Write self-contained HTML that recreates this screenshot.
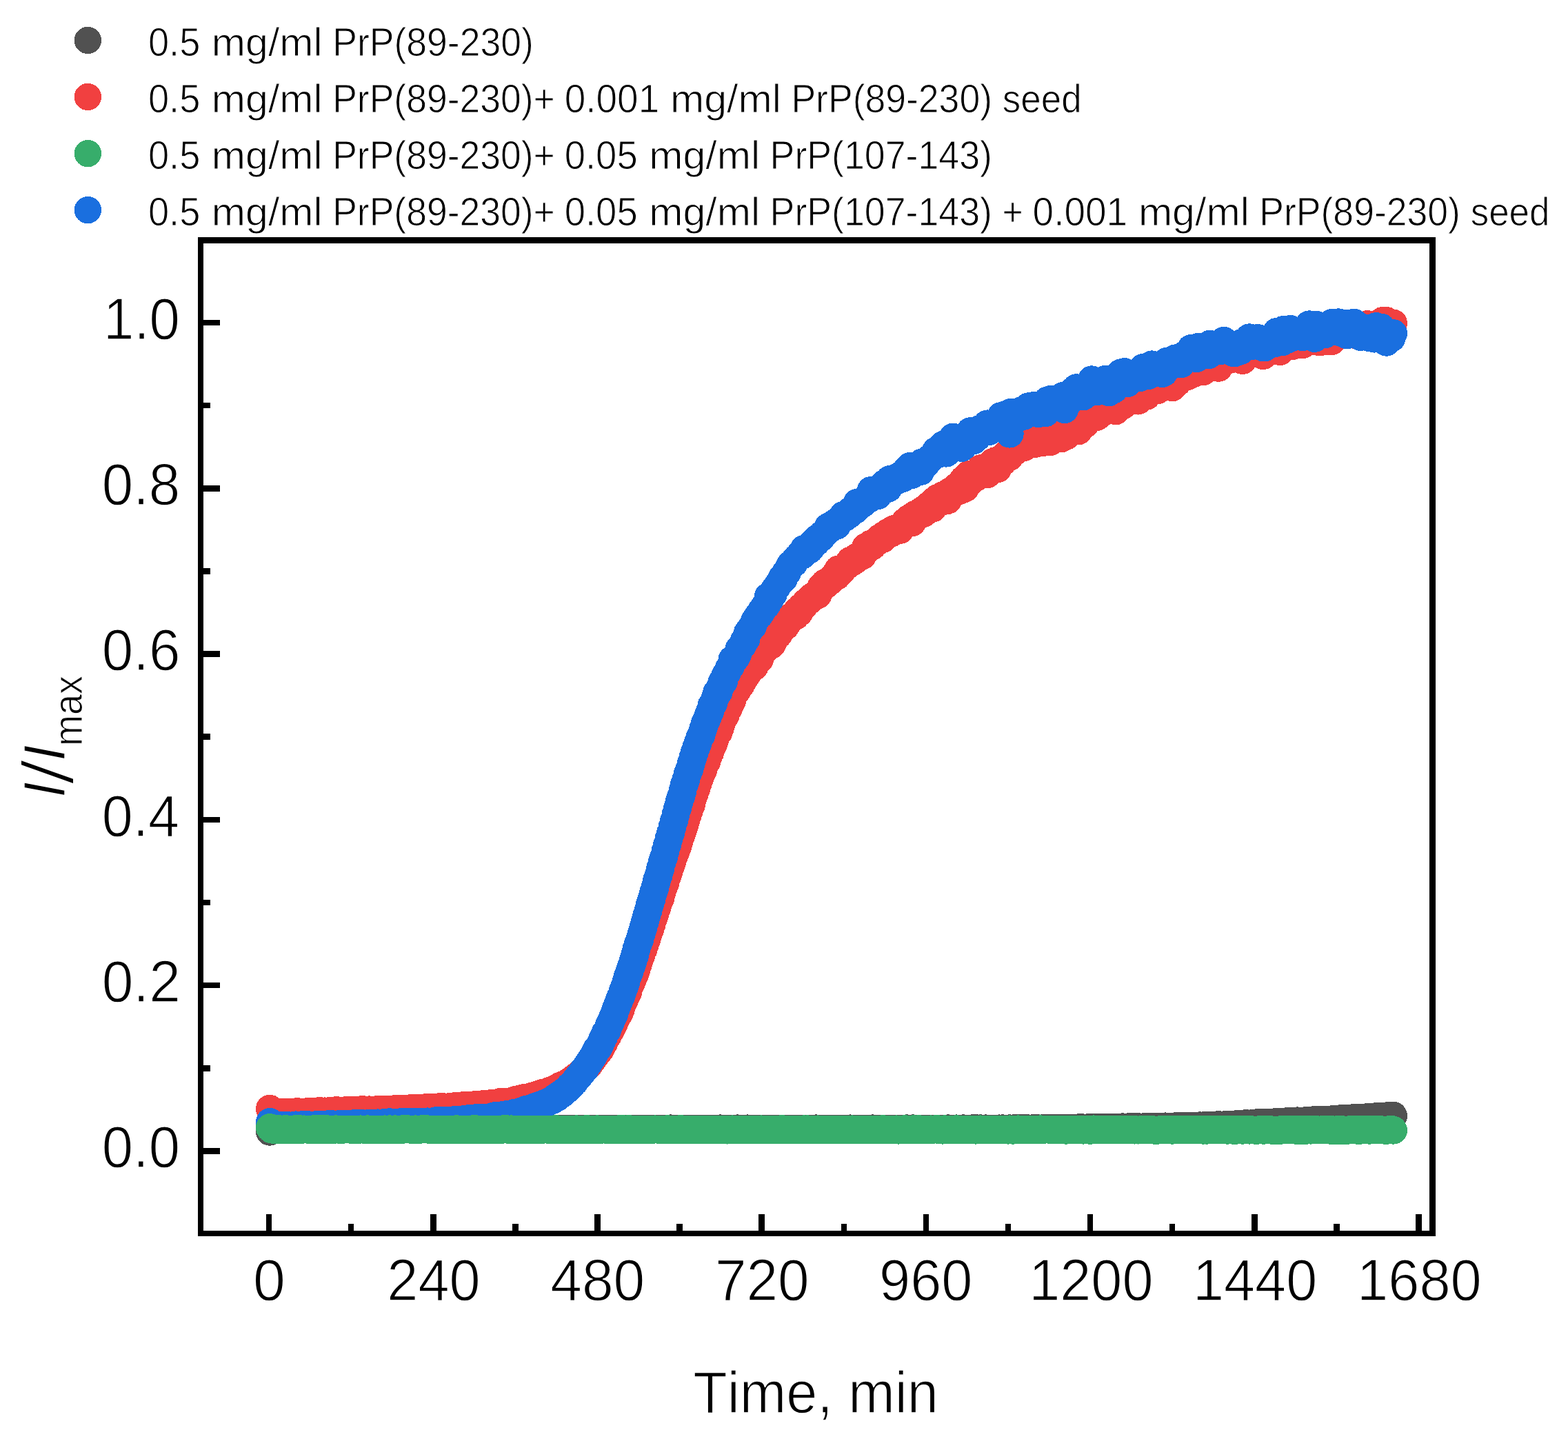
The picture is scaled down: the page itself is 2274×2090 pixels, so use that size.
<!DOCTYPE html>
<html lang="en"><head><meta charset="utf-8"><title>ThT kinetics</title>
<style>
html,body{margin:0;padding:0;background:#fff}
svg{display:block}
text{font-family:"Liberation Sans",sans-serif;fill:#000;stroke:#fff;font-kerning:none;font-variant-ligatures:none;white-space:pre}
</style></head>
<body>
<svg width="2274" height="2090" viewBox="0 0 2274 2090" shape-rendering="crispEdges">
<rect width="2274" height="2090" fill="#fff"/>
<g id="legend" font-size="57.2" stroke-width="1.0">
<circle cx="127.4" cy="58.5" r="19.7" fill="#515151" stroke="none"/><text y="81.0"><tspan x="215.0" textLength="75.3" lengthAdjust="spacingAndGlyphs">0.5</tspan> <tspan x="306.8" textLength="160.9" lengthAdjust="spacingAndGlyphs">mg/ml</tspan> <tspan x="482.2" textLength="291.6" lengthAdjust="spacingAndGlyphs">PrP(89-230)</tspan></text>
<circle cx="127.4" cy="140.5" r="19.7" fill="#F14040" stroke="none"/><text y="163.1"><tspan x="215.0" textLength="75.3" lengthAdjust="spacingAndGlyphs">0.5</tspan> <tspan x="306.8" textLength="160.9" lengthAdjust="spacingAndGlyphs">mg/ml</tspan> <tspan x="482.2" textLength="322.6" lengthAdjust="spacingAndGlyphs">PrP(89-230)+</tspan> <tspan x="818.7" textLength="137.5" lengthAdjust="spacingAndGlyphs">0.001</tspan> <tspan x="972.0" textLength="160.9" lengthAdjust="spacingAndGlyphs">mg/ml</tspan> <tspan x="1147.4" textLength="291.6" lengthAdjust="spacingAndGlyphs">PrP(89-230)</tspan> <tspan x="1453.8" textLength="114.8" lengthAdjust="spacingAndGlyphs">seed</tspan></text>
<circle cx="127.4" cy="222.6" r="19.7" fill="#37AD6B" stroke="none"/><text y="245.1"><tspan x="215.0" textLength="75.3" lengthAdjust="spacingAndGlyphs">0.5</tspan> <tspan x="306.8" textLength="160.9" lengthAdjust="spacingAndGlyphs">mg/ml</tspan> <tspan x="482.2" textLength="322.6" lengthAdjust="spacingAndGlyphs">PrP(89-230)+</tspan> <tspan x="818.7" textLength="106.0" lengthAdjust="spacingAndGlyphs">0.05</tspan> <tspan x="941.2" textLength="160.9" lengthAdjust="spacingAndGlyphs">mg/ml</tspan> <tspan x="1116.6" textLength="322.3" lengthAdjust="spacingAndGlyphs">PrP(107-143)</tspan></text>
<circle cx="127.4" cy="304.6" r="19.7" fill="#1A6FDF" stroke="none"/><text y="327.1"><tspan x="215.0" textLength="75.3" lengthAdjust="spacingAndGlyphs">0.5</tspan> <tspan x="306.8" textLength="160.9" lengthAdjust="spacingAndGlyphs">mg/ml</tspan> <tspan x="482.2" textLength="322.6" lengthAdjust="spacingAndGlyphs">PrP(89-230)+</tspan> <tspan x="818.7" textLength="106.0" lengthAdjust="spacingAndGlyphs">0.05</tspan> <tspan x="941.2" textLength="160.9" lengthAdjust="spacingAndGlyphs">mg/ml</tspan> <tspan x="1116.6" textLength="322.3" lengthAdjust="spacingAndGlyphs">PrP(107-143)</tspan> <tspan x="1453.4" textLength="30.2" lengthAdjust="spacingAndGlyphs">+</tspan> <tspan x="1497.6" textLength="137.5" lengthAdjust="spacingAndGlyphs">0.001</tspan> <tspan x="1650.9" textLength="160.9" lengthAdjust="spacingAndGlyphs">mg/ml</tspan> <tspan x="1826.3" textLength="291.6" lengthAdjust="spacingAndGlyphs">PrP(89-230)</tspan> <tspan x="2132.7" textLength="114.8" lengthAdjust="spacingAndGlyphs">seed</tspan></text>
</g>
<g id="data" fill="none" stroke-linecap="round" stroke-linejoin="round" stroke-width="41.0">
<path stroke="#515151" d="M391.4 1641.2h.01M393.9 1638.2h.01M396.4 1638.3h.01M398.9 1638.2h.01M401.3 1637.8h.01M403.8 1638.3h.01M406.3 1638.2h.01M408.8 1637.9h.01M411.3 1638.2h.01M413.8 1638.1h.01M416.2 1638.1h.01M418.7 1638.0h.01M421.2 1638.1h.01M423.7 1637.8h.01M426.2 1638.0h.01M428.7 1637.9h.01M431.1 1638.1h.01M433.6 1638.0h.01M436.1 1637.9h.01M438.6 1637.8h.01M441.1 1637.9h.01M443.6 1637.9h.01M446.0 1637.9h.01M448.5 1638.2h.01M451.0 1638.1h.01M453.5 1637.5h.01M456.0 1637.5h.01M458.5 1637.8h.01M460.9 1637.8h.01M463.4 1637.9h.01M465.9 1637.9h.01M468.4 1638.3h.01M470.9 1637.6h.01M473.4 1637.7h.01M475.8 1638.2h.01M478.3 1637.9h.01M480.8 1637.9h.01M483.3 1637.7h.01M485.8 1637.4h.01M488.3 1637.8h.01M490.7 1637.8h.01M493.2 1637.5h.01M495.7 1637.6h.01M498.2 1637.7h.01M500.7 1637.5h.01M503.2 1637.7h.01M505.6 1637.7h.01M508.1 1637.7h.01M510.6 1637.6h.01M513.1 1637.8h.01M515.6 1637.9h.01M518.1 1637.7h.01M520.5 1637.5h.01M523.0 1637.8h.01M525.5 1637.5h.01M528.0 1637.8h.01M530.5 1637.4h.01M533.0 1637.8h.01M535.4 1637.6h.01M537.9 1637.3h.01M540.4 1637.5h.01M542.9 1637.6h.01M545.4 1637.7h.01M547.9 1637.4h.01M550.3 1637.3h.01M552.8 1637.6h.01M555.3 1637.5h.01M557.8 1637.6h.01M560.3 1637.7h.01M562.8 1637.2h.01M565.2 1637.6h.01M567.7 1637.8h.01M570.2 1637.5h.01M572.7 1637.4h.01M575.2 1637.7h.01M577.7 1637.6h.01M580.1 1637.7h.01M582.6 1637.5h.01M585.1 1637.2h.01M587.6 1637.5h.01M590.1 1637.4h.01M592.6 1637.7h.01M595.0 1637.6h.01M597.5 1637.2h.01M600.0 1637.2h.01M602.5 1637.7h.01M605.0 1637.7h.01M607.5 1637.4h.01M609.9 1637.5h.01M612.4 1637.6h.01M614.9 1637.6h.01M617.4 1637.7h.01M619.9 1637.6h.01M622.4 1637.5h.01M624.8 1637.4h.01M627.3 1637.7h.01M629.8 1637.1h.01M632.3 1637.5h.01M634.8 1637.5h.01M637.3 1637.2h.01M639.7 1637.6h.01M642.2 1637.3h.01M644.7 1637.7h.01M647.2 1637.4h.01M649.7 1637.6h.01M652.2 1637.7h.01M654.6 1637.6h.01M657.1 1637.3h.01M659.6 1637.1h.01M662.1 1637.8h.01M664.6 1637.4h.01M667.1 1637.3h.01M669.5 1637.5h.01M672.0 1637.4h.01M674.5 1637.6h.01M677.0 1637.5h.01M679.5 1637.5h.01M682.0 1637.3h.01M684.4 1637.6h.01M686.9 1637.2h.01M689.4 1637.6h.01M691.9 1637.8h.01M694.4 1637.1h.01M696.9 1637.0h.01M699.3 1637.6h.01M701.8 1637.9h.01M704.3 1637.2h.01M706.8 1637.2h.01M709.3 1637.6h.01M711.8 1637.2h.01M714.2 1637.3h.01M716.7 1637.4h.01M719.2 1637.5h.01M721.7 1637.3h.01M724.2 1637.5h.01M726.7 1637.4h.01M729.1 1637.2h.01M731.6 1637.4h.01M734.1 1637.2h.01M736.6 1637.4h.01M739.1 1637.2h.01M741.6 1637.2h.01M744.0 1637.7h.01M746.5 1637.4h.01M749.0 1637.4h.01M751.5 1637.5h.01M754.0 1637.3h.01M756.5 1637.4h.01M758.9 1637.5h.01M761.4 1637.5h.01M763.9 1637.2h.01M766.4 1637.6h.01M768.9 1637.3h.01M771.4 1637.2h.01M773.8 1637.2h.01M776.3 1637.3h.01M778.8 1637.8h.01M781.3 1637.1h.01M783.8 1637.4h.01M786.3 1637.0h.01M788.7 1637.4h.01M791.2 1637.6h.01M793.7 1637.3h.01M796.2 1637.3h.01M798.7 1637.4h.01M801.2 1637.5h.01M803.6 1637.5h.01M806.1 1637.8h.01M808.6 1637.4h.01M811.1 1637.3h.01M813.6 1637.4h.01M816.1 1637.4h.01M818.5 1637.4h.01M821.0 1637.4h.01M823.5 1637.4h.01M826.0 1637.0h.01M828.5 1637.6h.01M831.0 1637.3h.01M833.4 1637.1h.01M835.9 1637.5h.01M838.4 1637.7h.01M840.9 1637.5h.01M843.4 1637.4h.01M845.9 1637.2h.01M848.3 1637.8h.01M850.8 1637.6h.01M853.3 1637.1h.01M855.8 1637.2h.01M858.3 1637.4h.01M860.8 1637.0h.01M863.2 1637.4h.01M865.7 1637.3h.01M868.2 1637.6h.01M870.7 1637.6h.01M873.2 1637.0h.01M875.7 1637.4h.01M878.1 1637.0h.01M880.6 1637.6h.01M883.1 1637.4h.01M885.6 1637.5h.01M888.1 1637.1h.01M890.6 1637.8h.01M893.0 1637.8h.01M895.5 1637.1h.01M898.0 1637.4h.01M900.5 1637.2h.01M903.0 1637.4h.01M905.5 1637.1h.01M907.9 1637.8h.01M910.4 1637.1h.01M912.9 1637.3h.01M915.4 1637.5h.01M917.9 1637.2h.01M920.4 1637.3h.01M922.8 1637.2h.01M925.3 1637.3h.01M927.8 1637.1h.01M930.3 1637.3h.01M932.8 1637.3h.01M935.3 1637.3h.01M937.7 1637.4h.01M940.2 1637.3h.01M942.7 1637.5h.01M945.2 1637.3h.01M947.7 1637.3h.01M950.2 1637.2h.01M952.6 1637.2h.01M955.1 1637.1h.01M957.6 1637.5h.01M960.1 1637.1h.01M962.6 1637.2h.01M965.1 1637.4h.01M967.5 1637.4h.01M970.0 1637.3h.01M972.5 1636.9h.01M975.0 1637.4h.01M977.5 1637.4h.01M980.0 1637.0h.01M982.4 1637.5h.01M984.9 1637.2h.01M987.4 1637.1h.01M989.9 1637.4h.01M992.4 1637.3h.01M994.9 1637.4h.01M997.3 1637.0h.01M999.8 1637.7h.01M1002.3 1637.2h.01M1004.8 1637.0h.01M1007.3 1637.5h.01M1009.8 1637.3h.01M1012.2 1637.4h.01M1014.7 1637.3h.01M1017.2 1637.3h.01M1019.7 1637.4h.01M1022.2 1637.2h.01M1024.7 1637.5h.01M1027.2 1637.2h.01M1029.6 1637.1h.01M1032.1 1637.4h.01M1034.6 1637.4h.01M1037.1 1637.3h.01M1039.6 1637.1h.01M1042.1 1637.5h.01M1044.5 1636.9h.01M1047.0 1637.1h.01M1049.5 1637.3h.01M1052.0 1637.0h.01M1054.5 1637.3h.01M1057.0 1637.3h.01M1059.4 1637.5h.01M1061.9 1637.1h.01M1064.4 1637.2h.01M1066.9 1637.4h.01M1069.4 1636.9h.01M1071.9 1637.7h.01M1074.3 1637.2h.01M1076.8 1637.2h.01M1079.3 1637.5h.01M1081.8 1637.3h.01M1084.3 1636.9h.01M1086.8 1637.5h.01M1089.2 1637.5h.01M1091.7 1637.2h.01M1094.2 1637.3h.01M1096.7 1637.4h.01M1099.2 1637.1h.01M1101.7 1637.4h.01M1104.1 1637.4h.01M1106.6 1637.2h.01M1109.1 1637.0h.01M1111.6 1637.3h.01M1114.1 1637.1h.01M1116.6 1637.5h.01M1119.0 1637.3h.01M1121.5 1637.5h.01M1124.0 1637.3h.01M1126.5 1637.4h.01M1129.0 1637.1h.01M1131.5 1637.5h.01M1133.9 1637.7h.01M1136.4 1637.2h.01M1138.9 1637.2h.01M1141.4 1637.3h.01M1143.9 1637.2h.01M1146.4 1637.2h.01M1148.8 1637.3h.01M1151.3 1637.2h.01M1153.8 1637.6h.01M1156.3 1637.3h.01M1158.8 1637.4h.01M1161.3 1637.5h.01M1163.7 1637.2h.01M1166.2 1637.6h.01M1168.7 1637.2h.01M1171.2 1637.1h.01M1173.7 1637.2h.01M1176.2 1637.3h.01M1178.6 1637.0h.01M1181.1 1637.3h.01M1183.6 1636.9h.01M1186.1 1637.6h.01M1188.6 1637.3h.01M1191.1 1637.1h.01M1193.5 1637.1h.01M1196.0 1637.2h.01M1198.5 1637.2h.01M1201.0 1637.1h.01M1203.5 1637.1h.01M1206.0 1637.2h.01M1208.4 1637.2h.01M1210.9 1637.5h.01M1213.4 1637.5h.01M1215.9 1637.3h.01M1218.4 1637.4h.01M1220.9 1637.0h.01M1223.3 1637.4h.01M1225.8 1637.3h.01M1228.3 1637.4h.01M1230.8 1637.6h.01M1233.3 1636.9h.01M1235.8 1637.3h.01M1238.2 1637.0h.01M1240.7 1637.4h.01M1243.2 1637.0h.01M1245.7 1637.2h.01M1248.2 1637.3h.01M1250.7 1637.4h.01M1253.1 1637.3h.01M1255.6 1637.1h.01M1258.1 1637.1h.01M1260.6 1637.5h.01M1263.1 1637.3h.01M1265.6 1636.9h.01M1268.0 1637.4h.01M1270.5 1637.3h.01M1273.0 1637.4h.01M1275.5 1637.2h.01M1278.0 1637.4h.01M1280.5 1637.0h.01M1282.9 1637.4h.01M1285.4 1637.1h.01M1287.9 1637.4h.01M1290.4 1637.5h.01M1292.9 1637.1h.01M1295.4 1637.2h.01M1297.8 1637.2h.01M1300.3 1637.5h.01M1302.8 1637.4h.01M1305.3 1637.0h.01M1307.8 1637.3h.01M1310.3 1637.4h.01M1312.7 1637.6h.01M1315.2 1636.8h.01M1317.7 1637.1h.01M1320.2 1637.5h.01M1322.7 1636.9h.01M1325.2 1636.9h.01M1327.6 1637.3h.01M1330.1 1637.4h.01M1332.6 1637.1h.01M1335.1 1637.3h.01M1337.6 1637.2h.01M1340.1 1637.5h.01M1342.5 1637.2h.01M1345.0 1637.4h.01M1347.5 1637.0h.01M1350.0 1637.2h.01M1352.5 1637.2h.01M1355.0 1637.4h.01M1357.4 1637.3h.01M1359.9 1637.0h.01M1362.4 1637.3h.01M1364.9 1637.3h.01M1367.4 1637.2h.01M1369.9 1637.1h.01M1372.3 1637.1h.01M1374.8 1636.8h.01M1377.3 1637.2h.01M1379.8 1637.2h.01M1382.3 1637.0h.01M1384.8 1637.3h.01M1387.2 1636.9h.01M1389.7 1637.0h.01M1392.2 1637.0h.01M1394.7 1637.6h.01M1397.2 1636.8h.01M1399.7 1637.3h.01M1402.1 1637.3h.01M1404.6 1637.2h.01M1407.1 1637.4h.01M1409.6 1636.9h.01M1412.1 1636.7h.01M1414.6 1637.3h.01M1417.0 1636.8h.01M1419.5 1637.0h.01M1422.0 1636.8h.01M1424.5 1637.3h.01M1427.0 1637.3h.01M1429.5 1636.9h.01M1431.9 1637.2h.01M1434.4 1637.1h.01M1436.9 1637.0h.01M1439.4 1637.0h.01M1441.9 1637.0h.01M1444.4 1637.1h.01M1446.8 1637.0h.01M1449.3 1636.9h.01M1451.8 1637.2h.01M1454.3 1636.8h.01M1456.8 1637.0h.01M1459.3 1637.0h.01M1461.7 1637.2h.01M1464.2 1636.8h.01M1466.7 1637.3h.01M1469.2 1636.9h.01M1471.7 1636.8h.01M1474.2 1636.7h.01M1476.6 1636.9h.01M1479.1 1636.8h.01M1481.6 1636.5h.01M1484.1 1636.5h.01M1486.6 1636.6h.01M1489.1 1636.6h.01M1491.5 1636.9h.01M1494.0 1637.0h.01M1496.5 1636.9h.01M1499.0 1636.7h.01M1501.5 1636.5h.01M1504.0 1636.6h.01M1506.4 1636.8h.01M1508.9 1637.0h.01M1511.4 1636.8h.01M1513.9 1636.5h.01M1516.4 1636.5h.01M1518.9 1636.4h.01M1521.3 1636.3h.01M1523.8 1636.4h.01M1526.3 1636.5h.01M1528.8 1636.8h.01M1531.3 1636.4h.01M1533.8 1636.6h.01M1536.2 1636.7h.01M1538.7 1636.3h.01M1541.2 1636.6h.01M1543.7 1636.4h.01M1546.2 1636.1h.01M1548.7 1636.3h.01M1551.1 1636.2h.01M1553.6 1636.1h.01M1556.1 1636.1h.01M1558.6 1636.1h.01M1561.1 1636.2h.01M1563.6 1635.8h.01M1566.0 1636.0h.01M1568.5 1635.7h.01M1571.0 1636.0h.01M1573.5 1636.1h.01M1576.0 1635.9h.01M1578.5 1635.9h.01M1580.9 1636.0h.01M1583.4 1635.7h.01M1585.9 1635.7h.01M1588.4 1635.9h.01M1590.9 1635.9h.01M1593.4 1635.8h.01M1595.8 1636.1h.01M1598.3 1635.6h.01M1600.8 1635.8h.01M1603.3 1635.8h.01M1605.8 1635.5h.01M1608.3 1635.3h.01M1610.7 1635.2h.01M1613.2 1635.5h.01M1615.7 1635.7h.01M1618.2 1635.4h.01M1620.7 1635.4h.01M1623.2 1635.2h.01M1625.6 1635.4h.01M1628.1 1634.8h.01M1630.6 1635.3h.01M1633.1 1635.2h.01M1635.6 1634.8h.01M1638.1 1635.5h.01M1640.5 1634.8h.01M1643.0 1634.8h.01M1645.5 1634.7h.01M1648.0 1635.2h.01M1650.5 1634.7h.01M1653.0 1635.0h.01M1655.5 1635.0h.01M1657.9 1634.9h.01M1660.4 1634.5h.01M1662.9 1634.6h.01M1665.4 1635.1h.01M1667.9 1634.4h.01M1670.4 1634.4h.01M1672.8 1634.5h.01M1675.3 1634.7h.01M1677.8 1634.6h.01M1680.3 1634.6h.01M1682.8 1634.2h.01M1685.3 1634.6h.01M1687.7 1634.5h.01M1690.2 1633.9h.01M1692.7 1634.6h.01M1695.2 1634.6h.01M1697.7 1634.0h.01M1700.2 1634.1h.01M1702.6 1634.4h.01M1705.1 1633.7h.01M1707.6 1633.6h.01M1710.1 1633.6h.01M1712.6 1633.7h.01M1715.1 1633.7h.01M1717.5 1633.9h.01M1720.0 1633.7h.01M1722.5 1633.3h.01M1725.0 1633.7h.01M1727.5 1633.9h.01M1730.0 1633.6h.01M1732.4 1633.5h.01M1734.9 1633.2h.01M1737.4 1633.3h.01M1739.9 1632.8h.01M1742.4 1633.1h.01M1744.9 1632.8h.01M1747.3 1633.0h.01M1749.8 1632.8h.01M1752.3 1632.3h.01M1754.8 1632.5h.01M1757.3 1632.6h.01M1759.8 1632.0h.01M1762.2 1632.0h.01M1764.7 1631.9h.01M1767.2 1631.6h.01M1769.7 1632.0h.01M1772.2 1632.0h.01M1774.7 1631.8h.01M1777.1 1631.5h.01M1779.6 1631.4h.01M1782.1 1631.3h.01M1784.6 1631.0h.01M1787.1 1631.2h.01M1789.6 1631.1h.01M1792.0 1631.0h.01M1794.5 1630.5h.01M1797.0 1630.5h.01M1799.5 1630.4h.01M1802.0 1630.7h.01M1804.5 1630.2h.01M1806.9 1629.6h.01M1809.4 1630.0h.01M1811.9 1630.2h.01M1814.4 1629.8h.01M1816.9 1629.7h.01M1819.4 1629.4h.01M1821.8 1628.8h.01M1824.3 1628.7h.01M1826.8 1628.7h.01M1829.3 1628.9h.01M1831.8 1628.8h.01M1834.3 1628.8h.01M1836.7 1628.4h.01M1839.2 1628.6h.01M1841.7 1628.2h.01M1844.2 1628.0h.01M1846.7 1628.2h.01M1849.2 1627.7h.01M1851.6 1627.3h.01M1854.1 1627.4h.01M1856.6 1627.5h.01M1859.1 1627.0h.01M1861.6 1627.2h.01M1864.1 1627.1h.01M1866.5 1626.7h.01M1869.0 1626.6h.01M1871.5 1626.7h.01M1874.0 1626.6h.01M1876.5 1626.8h.01M1879.0 1626.5h.01M1881.4 1625.9h.01M1883.9 1626.0h.01M1886.4 1626.2h.01M1888.9 1626.3h.01M1891.4 1625.9h.01M1893.9 1625.7h.01M1896.3 1625.9h.01M1898.8 1625.4h.01M1901.3 1625.2h.01M1903.8 1624.8h.01M1906.3 1624.9h.01M1908.8 1625.3h.01M1911.2 1624.4h.01M1913.7 1624.6h.01M1916.2 1624.2h.01M1918.7 1624.4h.01M1921.2 1624.4h.01M1923.7 1624.0h.01M1926.1 1624.1h.01M1928.6 1624.0h.01M1931.1 1623.8h.01M1933.6 1623.9h.01M1936.1 1623.6h.01M1938.6 1623.2h.01M1941.0 1623.0h.01M1943.5 1622.8h.01M1946.0 1622.9h.01M1948.5 1622.6h.01M1951.0 1623.0h.01M1953.5 1622.8h.01M1955.9 1622.2h.01M1958.4 1622.1h.01M1960.9 1622.4h.01M1963.4 1621.4h.01M1965.9 1621.6h.01M1968.4 1621.8h.01M1970.8 1621.2h.01M1973.3 1621.1h.01M1975.8 1621.0h.01M1978.3 1621.1h.01M1980.8 1620.8h.01M1983.3 1620.8h.01M1985.7 1620.6h.01M1988.2 1620.4h.01M1990.7 1620.5h.01M1993.2 1619.9h.01M1995.7 1619.6h.01M1998.2 1619.4h.01M2000.6 1619.3h.01M2003.1 1619.3h.01M2005.6 1619.5h.01M2008.1 1619.2h.01M2010.6 1618.9h.01M2013.1 1618.6h.01M2015.5 1618.6h.01M2018.0 1618.4h.01M2020.5 1618.3h.01"/>
<path stroke="#F14040" d="M391.4 1608.3h.01M393.9 1614.3h.01M396.4 1614.3h.01M398.9 1613.5h.01M401.3 1613.8h.01M403.8 1613.8h.01M406.3 1613.8h.01M408.8 1614.9h.01M411.3 1613.5h.01M413.8 1613.4h.01M416.2 1613.2h.01M418.7 1614.2h.01M421.2 1613.2h.01M423.7 1613.3h.01M426.2 1613.9h.01M428.7 1613.8h.01M431.1 1612.6h.01M433.6 1614.4h.01M436.1 1613.3h.01M438.6 1613.7h.01M441.1 1613.2h.01M443.6 1614.1h.01M446.0 1612.6h.01M448.5 1612.4h.01M451.0 1613.0h.01M453.5 1613.6h.01M456.0 1612.6h.01M458.5 1613.2h.01M460.9 1613.5h.01M463.4 1611.5h.01M465.9 1613.3h.01M468.4 1613.1h.01M470.9 1611.9h.01M473.4 1612.1h.01M475.8 1611.8h.01M478.3 1612.6h.01M480.8 1611.6h.01M483.3 1612.3h.01M485.8 1612.7h.01M488.3 1610.6h.01M490.7 1612.0h.01M493.2 1611.6h.01M495.7 1611.2h.01M498.2 1611.8h.01M500.7 1611.3h.01M503.2 1610.3h.01M505.6 1610.8h.01M508.1 1611.1h.01M510.6 1610.6h.01M513.1 1610.1h.01M515.6 1612.2h.01M518.1 1611.8h.01M520.5 1611.6h.01M523.0 1610.8h.01M525.5 1609.4h.01M528.0 1610.3h.01M530.5 1610.8h.01M533.0 1610.1h.01M535.4 1609.9h.01M537.9 1610.4h.01M540.4 1611.4h.01M542.9 1610.3h.01M545.4 1610.1h.01M547.9 1609.4h.01M550.3 1610.8h.01M552.8 1610.0h.01M555.3 1609.7h.01M557.8 1609.4h.01M560.3 1609.2h.01M562.8 1609.6h.01M565.2 1610.5h.01M567.7 1609.4h.01M570.2 1609.6h.01M572.7 1608.7h.01M575.2 1609.3h.01M577.7 1608.0h.01M580.1 1609.8h.01M582.6 1608.5h.01M585.1 1609.1h.01M587.6 1608.7h.01M590.1 1609.5h.01M592.6 1608.8h.01M595.0 1608.8h.01M597.5 1607.2h.01M600.0 1607.4h.01M602.5 1607.3h.01M605.0 1607.2h.01M607.5 1607.2h.01M609.9 1608.3h.01M612.4 1607.5h.01M614.9 1607.4h.01M617.4 1606.7h.01M619.9 1606.6h.01M622.4 1606.2h.01M624.8 1607.7h.01M627.3 1606.9h.01M629.8 1607.2h.01M632.3 1606.8h.01M634.8 1605.9h.01M637.3 1606.3h.01M639.7 1605.0h.01M642.2 1606.6h.01M644.7 1606.0h.01M647.2 1606.0h.01M649.7 1605.8h.01M652.2 1606.0h.01M654.6 1605.3h.01M657.1 1605.3h.01M659.6 1604.7h.01M662.1 1604.8h.01M664.6 1605.1h.01M667.1 1605.3h.01M669.5 1604.3h.01M672.0 1603.5h.01M674.5 1603.0h.01M677.0 1603.9h.01M679.5 1603.4h.01M682.0 1604.1h.01M684.4 1604.6h.01M686.9 1602.8h.01M689.4 1604.0h.01M691.9 1603.7h.01M694.4 1602.0h.01M696.9 1602.2h.01M699.3 1602.7h.01M701.8 1601.5h.01M704.3 1601.1h.01M706.8 1602.0h.01M709.3 1600.9h.01M711.8 1600.6h.01M714.2 1601.2h.01M716.7 1600.5h.01M719.2 1600.3h.01M721.7 1600.8h.01M724.2 1600.4h.01M726.7 1598.2h.01M729.1 1599.6h.01M731.6 1598.6h.01M734.1 1598.5h.01M736.6 1598.5h.01M739.1 1598.8h.01M741.6 1597.7h.01M744.0 1596.7h.01M746.5 1596.6h.01M749.0 1594.9h.01M751.5 1595.7h.01M754.0 1595.0h.01M756.5 1593.5h.01M758.9 1592.8h.01M761.4 1592.3h.01M763.9 1592.0h.01M766.4 1592.2h.01M768.9 1591.1h.01M771.4 1590.1h.01M773.8 1589.6h.01M776.3 1589.9h.01M778.8 1588.1h.01M781.3 1587.1h.01M783.8 1588.0h.01M786.3 1585.5h.01M788.7 1585.6h.01M791.2 1585.0h.01M793.7 1583.7h.01M796.2 1582.6h.01M798.7 1582.6h.01M801.2 1581.0h.01M803.6 1580.3h.01M806.1 1578.9h.01M808.6 1578.9h.01M811.1 1576.1h.01M813.6 1574.7h.01M816.1 1573.8h.01M818.5 1573.0h.01M821.0 1571.6h.01M823.5 1570.5h.01M826.0 1568.5h.01M828.5 1567.7h.01M831.0 1564.9h.01M833.4 1563.2h.01M835.9 1561.9h.01M838.4 1559.5h.01M840.9 1557.2h.01M843.4 1555.0h.01M845.9 1552.4h.01M848.3 1550.4h.01M850.8 1548.0h.01M853.3 1545.6h.01M855.8 1542.0h.01M858.3 1538.5h.01M860.8 1535.1h.01M863.2 1531.7h.01M865.7 1527.8h.01M868.2 1525.4h.01M870.7 1522.1h.01M873.2 1516.8h.01M875.7 1512.7h.01M878.1 1506.9h.01M880.6 1503.6h.01M883.1 1498.5h.01M885.6 1494.3h.01M888.1 1488.9h.01M890.6 1484.0h.01M893.0 1478.7h.01M895.5 1473.5h.01M898.0 1469.6h.01M900.5 1463.1h.01M903.0 1455.8h.01M905.5 1450.6h.01M907.9 1444.4h.01M910.4 1439.6h.01M912.9 1430.9h.01M915.4 1426.1h.01M917.9 1419.8h.01M920.4 1414.0h.01M922.8 1407.1h.01M925.3 1399.1h.01M927.8 1391.1h.01M930.3 1384.4h.01M932.8 1377.3h.01M935.3 1370.3h.01M937.7 1362.6h.01M940.2 1354.6h.01M942.7 1348.3h.01M945.2 1340.4h.01M947.7 1332.4h.01M950.2 1324.7h.01M952.6 1316.9h.01M955.1 1308.9h.01M957.6 1303.1h.01M960.1 1294.0h.01M962.6 1286.2h.01M965.1 1280.1h.01M967.5 1271.4h.01M970.0 1264.4h.01M972.5 1256.2h.01M975.0 1249.3h.01M977.5 1241.0h.01M980.0 1235.1h.01M982.4 1228.6h.01M984.9 1220.1h.01M987.4 1212.7h.01M989.9 1205.7h.01M992.4 1198.2h.01M994.9 1189.2h.01M997.3 1181.6h.01M999.8 1174.2h.01M1002.3 1167.6h.01M1004.8 1158.1h.01M1007.3 1150.8h.01M1009.8 1143.5h.01M1012.2 1136.3h.01M1014.7 1129.3h.01M1017.2 1121.9h.01M1019.7 1116.6h.01M1022.2 1108.5h.01M1024.7 1104.6h.01M1027.2 1097.2h.01M1029.6 1091.7h.01M1032.1 1084.0h.01M1034.6 1079.5h.01M1037.1 1072.0h.01M1039.6 1065.6h.01M1042.1 1061.9h.01M1044.5 1055.0h.01M1047.0 1047.5h.01M1049.5 1040.5h.01M1052.0 1037.7h.01M1054.5 1030.9h.01M1057.0 1026.2h.01M1059.4 1020.9h.01M1061.9 1015.8h.01M1064.4 1006.4h.01M1066.9 1001.6h.01M1069.4 1000.9h.01M1071.9 992.7h.01M1074.3 993.4h.01M1076.8 988.5h.01M1079.3 984.2h.01M1081.8 980.5h.01M1084.3 974.4h.01M1086.8 973.4h.01M1089.2 969.7h.01M1091.7 967.2h.01M1094.2 966.5h.01M1096.7 958.7h.01M1099.2 957.5h.01M1101.7 956.3h.01M1104.1 948.5h.01M1106.6 945.1h.01M1109.1 942.2h.01M1111.6 938.5h.01M1114.1 934.6h.01M1116.6 936.2h.01M1119.0 935.0h.01M1121.5 930.2h.01M1124.0 925.0h.01M1126.5 921.7h.01M1129.0 920.2h.01M1131.5 914.9h.01M1133.9 912.7h.01M1136.4 908.7h.01M1138.9 908.4h.01M1141.4 904.7h.01M1143.9 900.8h.01M1146.4 895.3h.01M1148.8 893.9h.01M1151.3 893.8h.01M1153.8 893.4h.01M1156.3 886.2h.01M1158.8 888.7h.01M1161.3 881.5h.01M1163.7 879.1h.01M1166.2 878.3h.01M1168.7 873.8h.01M1171.2 872.9h.01M1173.7 870.7h.01M1176.2 867.1h.01M1178.6 865.1h.01M1181.1 864.5h.01M1183.6 863.6h.01M1186.1 862.7h.01M1188.6 856.8h.01M1191.1 851.0h.01M1193.5 850.9h.01M1196.0 846.0h.01M1198.5 847.3h.01M1201.0 843.2h.01M1203.5 843.0h.01M1206.0 839.2h.01M1208.4 837.3h.01M1210.9 833.9h.01M1213.4 835.7h.01M1215.9 826.0h.01M1218.4 830.1h.01M1220.9 828.0h.01M1223.3 824.7h.01M1225.8 822.0h.01M1228.3 820.3h.01M1230.8 816.6h.01M1233.3 813.3h.01M1235.8 815.5h.01M1238.2 813.4h.01M1240.7 811.9h.01M1243.2 807.6h.01M1245.7 808.2h.01M1248.2 805.3h.01M1250.7 805.9h.01M1253.1 799.8h.01M1255.6 793.6h.01M1258.1 793.5h.01M1260.6 794.8h.01M1263.1 788.9h.01M1265.6 791.7h.01M1268.0 786.6h.01M1270.5 786.7h.01M1273.0 785.1h.01M1275.5 780.6h.01M1278.0 781.6h.01M1280.5 781.5h.01M1282.9 775.8h.01M1285.4 774.5h.01M1287.9 772.3h.01M1290.4 773.6h.01M1292.9 773.0h.01M1295.4 767.9h.01M1297.8 767.2h.01M1300.3 768.8h.01M1302.8 765.8h.01M1305.3 768.4h.01M1307.8 762.8h.01M1310.3 759.9h.01M1312.7 756.9h.01M1315.2 756.7h.01M1317.7 752.3h.01M1320.2 755.8h.01M1322.7 757.8h.01M1325.2 747.6h.01M1327.6 746.2h.01M1330.1 745.1h.01M1332.6 745.9h.01M1335.1 742.0h.01M1337.6 745.2h.01M1340.1 744.0h.01M1342.5 737.1h.01M1345.0 736.5h.01M1347.5 733.0h.01M1350.0 735.5h.01M1352.5 737.3h.01M1355.0 726.4h.01M1357.4 726.3h.01M1359.9 722.4h.01M1362.4 726.1h.01M1364.9 724.5h.01M1367.4 718.7h.01M1369.9 719.3h.01M1372.3 726.1h.01M1374.8 725.1h.01M1377.3 713.3h.01M1379.8 715.6h.01M1382.3 712.7h.01M1384.8 714.5h.01M1387.2 706.3h.01M1389.7 711.4h.01M1392.2 711.3h.01M1394.7 710.1h.01M1397.2 695.6h.01M1399.7 708.0h.01M1402.1 693.1h.01M1404.6 688.6h.01M1407.1 698.6h.01M1409.6 695.7h.01M1412.1 689.7h.01M1414.6 693.0h.01M1417.0 690.8h.01M1419.5 687.9h.01M1422.0 679.7h.01M1424.5 682.2h.01M1427.0 682.6h.01M1429.5 687.3h.01M1431.9 687.6h.01M1434.4 677.3h.01M1436.9 673.3h.01M1439.4 670.7h.01M1441.9 678.0h.01M1444.4 668.4h.01M1446.8 679.8h.01M1449.3 670.1h.01M1451.8 668.5h.01M1454.3 670.0h.01M1456.8 664.9h.01M1459.3 658.8h.01M1461.7 662.6h.01M1464.2 662.6h.01M1466.7 656.0h.01M1469.2 655.8h.01M1471.7 654.9h.01M1474.2 643.4h.01M1476.6 647.3h.01M1479.1 648.9h.01M1481.6 641.9h.01M1484.1 649.0h.01M1486.6 647.8h.01M1489.1 632.9h.01M1491.5 639.4h.01M1494.0 644.0h.01M1496.5 639.2h.01M1499.0 643.2h.01M1501.5 643.4h.01M1504.0 631.6h.01M1506.4 640.9h.01M1508.9 634.5h.01M1511.4 628.2h.01M1513.9 641.3h.01M1516.4 633.7h.01M1518.9 636.4h.01M1521.3 639.8h.01M1523.8 640.4h.01M1526.3 632.2h.01M1528.8 627.2h.01M1531.3 627.3h.01M1533.8 635.1h.01M1536.2 625.9h.01M1538.7 636.0h.01M1541.2 633.5h.01M1543.7 620.2h.01M1546.2 632.4h.01M1548.7 618.6h.01M1551.1 620.2h.01M1553.6 619.6h.01M1556.1 613.3h.01M1558.6 618.4h.01M1561.1 620.1h.01M1563.6 625.0h.01M1566.0 621.3h.01M1568.5 609.3h.01M1571.0 612.4h.01M1573.5 615.2h.01M1576.0 606.7h.01M1578.5 601.2h.01M1580.9 603.3h.01M1583.4 596.2h.01M1585.9 601.2h.01M1588.4 596.5h.01M1590.9 604.4h.01M1593.4 595.5h.01M1595.8 588.8h.01M1598.3 598.4h.01M1600.8 592.1h.01M1603.3 587.6h.01M1605.8 593.4h.01M1608.3 586.7h.01M1610.7 580.9h.01M1613.2 583.0h.01M1615.7 594.7h.01M1618.2 595.8h.01M1620.7 584.5h.01M1623.2 587.9h.01M1625.6 575.3h.01M1628.1 588.2h.01M1630.6 581.4h.01M1633.1 584.0h.01M1635.6 577.8h.01M1638.1 577.7h.01M1640.5 567.4h.01M1643.0 577.5h.01M1645.5 571.0h.01M1648.0 574.5h.01M1650.5 581.0h.01M1653.0 561.7h.01M1655.5 576.5h.01M1657.9 572.5h.01M1660.4 571.7h.01M1662.9 574.3h.01M1665.4 566.5h.01M1667.9 558.6h.01M1670.4 563.8h.01M1672.8 564.0h.01M1675.3 555.3h.01M1677.8 566.1h.01M1680.3 564.4h.01M1682.8 553.7h.01M1685.3 558.8h.01M1687.7 557.3h.01M1690.2 555.7h.01M1692.7 554.2h.01M1695.2 558.7h.01M1697.7 553.0h.01M1700.2 561.8h.01M1702.6 550.7h.01M1705.1 555.4h.01M1707.6 554.6h.01M1710.1 537.2h.01M1712.6 545.6h.01M1715.1 545.4h.01M1717.5 544.7h.01M1720.0 542.6h.01M1722.5 545.6h.01M1725.0 542.5h.01M1727.5 535.2h.01M1730.0 542.1h.01M1732.4 533.5h.01M1734.9 535.8h.01M1737.4 529.9h.01M1739.9 524.8h.01M1742.4 525.1h.01M1744.9 538.6h.01M1747.3 533.9h.01M1749.8 525.3h.01M1752.3 531.9h.01M1754.8 521.9h.01M1757.3 521.8h.01M1759.8 515.6h.01M1762.2 522.1h.01M1764.7 526.4h.01M1767.2 533.3h.01M1769.7 519.7h.01M1772.2 522.0h.01M1774.7 521.8h.01M1777.1 523.7h.01M1779.6 514.2h.01M1782.1 511.0h.01M1784.6 521.1h.01M1787.1 508.7h.01M1789.6 517.6h.01M1792.0 511.2h.01M1794.5 513.5h.01M1797.0 515.3h.01M1799.5 502.4h.01M1802.0 522.5h.01M1804.5 503.7h.01M1806.9 504.6h.01M1809.4 513.6h.01M1811.9 500.5h.01M1814.4 505.1h.01M1816.9 510.8h.01M1819.4 507.0h.01M1821.8 507.7h.01M1824.3 505.7h.01M1826.8 505.1h.01M1829.3 503.7h.01M1831.8 515.6h.01M1834.3 507.4h.01M1836.7 497.3h.01M1839.2 500.7h.01M1841.7 506.5h.01M1844.2 508.7h.01M1846.7 493.4h.01M1849.2 499.9h.01M1851.6 491.2h.01M1854.1 496.8h.01M1856.6 509.5h.01M1859.1 504.0h.01M1861.6 498.3h.01M1864.1 493.7h.01M1866.5 499.3h.01M1869.0 499.3h.01M1871.5 499.8h.01M1874.0 501.6h.01M1876.5 497.4h.01M1879.0 486.9h.01M1881.4 490.8h.01M1883.9 491.3h.01M1886.4 486.6h.01M1888.9 499.8h.01M1891.4 485.6h.01M1893.9 494.2h.01M1896.3 493.2h.01M1898.8 492.2h.01M1901.3 490.9h.01M1903.8 485.9h.01M1906.3 491.0h.01M1908.8 494.8h.01M1911.2 483.4h.01M1913.7 496.0h.01M1916.2 484.1h.01M1918.7 492.0h.01M1921.2 484.6h.01M1923.7 494.5h.01M1926.1 493.6h.01M1928.6 493.3h.01M1931.1 494.6h.01M1933.6 481.5h.01M1936.1 473.0h.01M1938.6 473.1h.01M1941.0 474.5h.01M1943.5 485.8h.01M1946.0 485.4h.01M1948.5 473.8h.01M1951.0 482.7h.01M1953.5 475.6h.01M1955.9 474.7h.01M1958.4 478.7h.01M1960.9 469.3h.01M1963.4 481.3h.01M1965.9 480.0h.01M1968.4 486.5h.01M1970.8 482.0h.01M1973.3 479.0h.01M1975.8 483.7h.01M1978.3 476.5h.01M1980.8 478.2h.01M1983.3 470.6h.01M1985.7 473.3h.01M1988.2 477.0h.01M1990.7 482.6h.01M1993.2 485.5h.01M1995.7 485.4h.01M1998.2 473.5h.01M2000.6 475.1h.01M2003.1 469.9h.01M2005.6 465.3h.01M2008.1 479.0h.01M2010.6 465.4h.01M2013.1 476.8h.01M2015.5 469.5h.01M2018.0 471.3h.01M2020.5 468.9h.01"/>
<path stroke="#1A6FDF" d="M391.4 1627.5h.01M393.9 1633.7h.01M396.4 1634.2h.01M398.9 1633.4h.01M401.3 1634.4h.01M403.8 1632.9h.01M406.3 1632.1h.01M408.8 1632.0h.01M411.3 1632.2h.01M413.8 1633.3h.01M416.2 1632.3h.01M418.7 1633.0h.01M421.2 1633.8h.01M423.7 1633.4h.01M426.2 1633.7h.01M428.7 1631.9h.01M431.1 1632.1h.01M433.6 1632.9h.01M436.1 1632.5h.01M438.6 1631.6h.01M441.1 1632.4h.01M443.6 1632.1h.01M446.0 1631.6h.01M448.5 1632.1h.01M451.0 1632.5h.01M453.5 1632.0h.01M456.0 1631.9h.01M458.5 1633.2h.01M460.9 1632.0h.01M463.4 1631.0h.01M465.9 1631.7h.01M468.4 1631.2h.01M470.9 1631.7h.01M473.4 1632.0h.01M475.8 1630.7h.01M478.3 1631.5h.01M480.8 1630.6h.01M483.3 1631.0h.01M485.8 1631.0h.01M488.3 1632.0h.01M490.7 1631.5h.01M493.2 1630.3h.01M495.7 1631.5h.01M498.2 1632.2h.01M500.7 1630.1h.01M503.2 1630.7h.01M505.6 1630.9h.01M508.1 1630.4h.01M510.6 1630.9h.01M513.1 1629.7h.01M515.6 1629.5h.01M518.1 1631.0h.01M520.5 1630.5h.01M523.0 1629.5h.01M525.5 1630.7h.01M528.0 1629.9h.01M530.5 1630.1h.01M533.0 1629.7h.01M535.4 1630.0h.01M537.9 1629.5h.01M540.4 1629.1h.01M542.9 1629.2h.01M545.4 1629.7h.01M547.9 1628.9h.01M550.3 1629.5h.01M552.8 1629.4h.01M555.3 1630.0h.01M557.8 1628.5h.01M560.3 1630.3h.01M562.8 1629.9h.01M565.2 1627.7h.01M567.7 1628.7h.01M570.2 1628.7h.01M572.7 1628.9h.01M575.2 1628.7h.01M577.7 1629.3h.01M580.1 1627.8h.01M582.6 1627.8h.01M585.1 1628.7h.01M587.6 1627.4h.01M590.1 1628.0h.01M592.6 1628.0h.01M595.0 1627.1h.01M597.5 1628.3h.01M600.0 1627.5h.01M602.5 1627.7h.01M605.0 1627.0h.01M607.5 1627.6h.01M609.9 1627.8h.01M612.4 1628.4h.01M614.9 1627.3h.01M617.4 1627.1h.01M619.9 1626.9h.01M622.4 1627.3h.01M624.8 1627.2h.01M627.3 1627.3h.01M629.8 1627.4h.01M632.3 1625.7h.01M634.8 1625.8h.01M637.3 1626.9h.01M639.7 1625.6h.01M642.2 1625.4h.01M644.7 1626.3h.01M647.2 1625.7h.01M649.7 1625.7h.01M652.2 1625.2h.01M654.6 1625.0h.01M657.1 1624.8h.01M659.6 1624.6h.01M662.1 1624.3h.01M664.6 1625.3h.01M667.1 1624.5h.01M669.5 1624.9h.01M672.0 1623.7h.01M674.5 1623.7h.01M677.0 1622.9h.01M679.5 1623.3h.01M682.0 1622.3h.01M684.4 1622.6h.01M686.9 1622.1h.01M689.4 1622.8h.01M691.9 1621.3h.01M694.4 1622.7h.01M696.9 1621.4h.01M699.3 1622.8h.01M701.8 1621.6h.01M704.3 1621.4h.01M706.8 1621.0h.01M709.3 1621.9h.01M711.8 1620.3h.01M714.2 1619.6h.01M716.7 1619.9h.01M719.2 1618.4h.01M721.7 1619.0h.01M724.2 1618.6h.01M726.7 1619.0h.01M729.1 1617.6h.01M731.6 1617.5h.01M734.1 1617.4h.01M736.6 1616.0h.01M739.1 1616.5h.01M741.6 1615.6h.01M744.0 1615.4h.01M746.5 1614.2h.01M749.0 1614.5h.01M751.5 1613.7h.01M754.0 1612.6h.01M756.5 1613.5h.01M758.9 1610.9h.01M761.4 1611.1h.01M763.9 1609.1h.01M766.4 1609.1h.01M768.9 1608.4h.01M771.4 1607.4h.01M773.8 1606.4h.01M776.3 1605.4h.01M778.8 1604.5h.01M781.3 1605.2h.01M783.8 1602.7h.01M786.3 1602.4h.01M788.7 1600.8h.01M791.2 1600.7h.01M793.7 1599.1h.01M796.2 1597.8h.01M798.7 1596.4h.01M801.2 1595.6h.01M803.6 1593.6h.01M806.1 1591.5h.01M808.6 1591.5h.01M811.1 1588.0h.01M813.6 1587.6h.01M816.1 1585.4h.01M818.5 1582.9h.01M821.0 1581.3h.01M823.5 1579.3h.01M826.0 1575.8h.01M828.5 1574.1h.01M831.0 1571.1h.01M833.4 1568.8h.01M835.9 1565.2h.01M838.4 1562.1h.01M840.9 1559.5h.01M843.4 1556.3h.01M845.9 1552.4h.01M848.3 1550.7h.01M850.8 1546.2h.01M853.3 1542.5h.01M855.8 1538.5h.01M858.3 1534.6h.01M860.8 1531.2h.01M863.2 1526.3h.01M865.7 1521.6h.01M868.2 1519.0h.01M870.7 1513.8h.01M873.2 1508.6h.01M875.7 1503.5h.01M878.1 1497.7h.01M880.6 1494.3h.01M883.1 1487.3h.01M885.6 1482.5h.01M888.1 1476.4h.01M890.6 1470.9h.01M893.0 1463.8h.01M895.5 1457.7h.01M898.0 1451.0h.01M900.5 1445.2h.01M903.0 1438.1h.01M905.5 1431.7h.01M907.9 1424.1h.01M910.4 1416.0h.01M912.9 1409.4h.01M915.4 1401.6h.01M917.9 1394.1h.01M920.4 1386.3h.01M922.8 1377.0h.01M925.3 1369.2h.01M927.8 1362.5h.01M930.3 1353.8h.01M932.8 1345.4h.01M935.3 1336.7h.01M937.7 1328.2h.01M940.2 1320.3h.01M942.7 1310.7h.01M945.2 1303.3h.01M947.7 1294.4h.01M950.2 1286.5h.01M952.6 1276.6h.01M955.1 1269.3h.01M957.6 1259.8h.01M960.1 1250.5h.01M962.6 1243.1h.01M965.1 1234.2h.01M967.5 1225.5h.01M970.0 1216.3h.01M972.5 1208.2h.01M975.0 1199.3h.01M977.5 1190.3h.01M980.0 1181.3h.01M982.4 1173.0h.01M984.9 1163.3h.01M987.4 1156.0h.01M989.9 1147.3h.01M992.4 1138.1h.01M994.9 1130.5h.01M997.3 1122.3h.01M999.8 1115.7h.01M1002.3 1107.5h.01M1004.8 1099.0h.01M1007.3 1090.9h.01M1009.8 1083.7h.01M1012.2 1077.5h.01M1014.7 1070.3h.01M1017.2 1065.8h.01M1019.7 1057.2h.01M1022.2 1049.6h.01M1024.7 1044.3h.01M1027.2 1037.5h.01M1029.6 1031.8h.01M1032.1 1023.0h.01M1034.6 1020.5h.01M1037.1 1012.5h.01M1039.6 1004.8h.01M1042.1 1003.7h.01M1044.5 996.7h.01M1047.0 989.3h.01M1049.5 988.5h.01M1052.0 979.4h.01M1054.5 975.8h.01M1057.0 969.9h.01M1059.4 966.7h.01M1061.9 956.8h.01M1064.4 957.5h.01M1066.9 954.2h.01M1069.4 949.5h.01M1071.9 941.3h.01M1074.3 938.6h.01M1076.8 936.0h.01M1079.3 929.4h.01M1081.8 927.3h.01M1084.3 917.6h.01M1086.8 914.3h.01M1089.2 910.9h.01M1091.7 908.1h.01M1094.2 901.0h.01M1096.7 897.4h.01M1099.2 893.4h.01M1101.7 891.5h.01M1104.1 886.1h.01M1106.6 883.6h.01M1109.1 879.0h.01M1111.6 877.6h.01M1114.1 865.4h.01M1116.6 869.3h.01M1119.0 862.1h.01M1121.5 861.1h.01M1124.0 854.1h.01M1126.5 851.5h.01M1129.0 847.1h.01M1131.5 844.3h.01M1133.9 838.6h.01M1136.4 839.3h.01M1138.9 831.7h.01M1141.4 830.5h.01M1143.9 824.1h.01M1146.4 819.1h.01M1148.8 818.9h.01M1151.3 816.9h.01M1153.8 811.4h.01M1156.3 808.6h.01M1158.8 806.3h.01M1161.3 803.0h.01M1163.7 805.1h.01M1166.2 796.3h.01M1168.7 796.9h.01M1171.2 796.6h.01M1173.7 797.4h.01M1176.2 794.3h.01M1178.6 788.0h.01M1181.1 785.3h.01M1183.6 786.7h.01M1186.1 780.6h.01M1188.6 780.7h.01M1191.1 779.7h.01M1193.5 774.4h.01M1196.0 773.6h.01M1198.5 770.5h.01M1201.0 764.5h.01M1203.5 767.1h.01M1206.0 761.7h.01M1208.4 762.2h.01M1210.9 758.7h.01M1213.4 762.3h.01M1215.9 755.0h.01M1218.4 753.6h.01M1220.9 751.6h.01M1223.3 747.2h.01M1225.8 750.3h.01M1228.3 746.7h.01M1230.8 746.7h.01M1233.3 741.1h.01M1235.8 740.8h.01M1238.2 740.7h.01M1240.7 739.2h.01M1243.2 729.3h.01M1245.7 734.4h.01M1248.2 729.5h.01M1250.7 730.8h.01M1253.1 726.2h.01M1255.6 723.7h.01M1258.1 723.6h.01M1260.6 723.3h.01M1263.1 711.5h.01M1265.6 717.8h.01M1268.0 714.8h.01M1270.5 711.5h.01M1273.0 718.8h.01M1275.5 709.7h.01M1278.0 712.2h.01M1280.5 703.9h.01M1282.9 701.4h.01M1285.4 703.1h.01M1287.9 708.4h.01M1290.4 695.5h.01M1292.9 701.1h.01M1295.4 694.4h.01M1297.8 696.6h.01M1300.3 697.1h.01M1302.8 695.0h.01M1305.3 689.9h.01M1307.8 694.1h.01M1310.3 691.8h.01M1312.7 691.6h.01M1315.2 680.9h.01M1317.7 687.1h.01M1320.2 676.3h.01M1322.7 688.5h.01M1325.2 680.1h.01M1327.6 682.9h.01M1330.1 676.8h.01M1332.6 679.3h.01M1335.1 683.5h.01M1337.6 670.7h.01M1340.1 671.3h.01M1342.5 673.5h.01M1345.0 668.1h.01M1347.5 665.5h.01M1350.0 664.8h.01M1352.5 662.3h.01M1355.0 660.7h.01M1357.4 654.1h.01M1359.9 657.1h.01M1362.4 657.8h.01M1364.9 654.9h.01M1367.4 645.6h.01M1369.9 644.2h.01M1372.3 657.1h.01M1374.8 645.5h.01M1377.3 641.8h.01M1379.8 646.2h.01M1382.3 634.0h.01M1384.8 645.4h.01M1387.2 636.0h.01M1389.7 641.8h.01M1392.2 639.8h.01M1394.7 649.4h.01M1397.2 647.1h.01M1399.7 637.1h.01M1402.1 635.0h.01M1404.6 635.8h.01M1407.1 625.7h.01M1409.6 633.1h.01M1412.1 638.7h.01M1414.6 627.8h.01M1417.0 634.3h.01M1419.5 630.3h.01M1422.0 621.9h.01M1424.5 626.2h.01M1427.0 627.1h.01M1429.5 624.8h.01M1431.9 614.9h.01M1434.4 625.6h.01M1436.9 617.2h.01M1439.4 621.4h.01M1441.9 619.3h.01M1444.4 617.7h.01M1446.8 610.7h.01M1449.3 615.8h.01M1451.8 603.6h.01M1454.3 604.9h.01M1456.8 611.3h.01M1459.3 601.1h.01M1461.7 604.1h.01M1464.2 629.1h.01M1466.7 598.1h.01M1469.2 606.2h.01M1471.7 601.4h.01M1474.2 599.0h.01M1476.6 606.0h.01M1479.1 603.3h.01M1481.6 595.6h.01M1484.1 603.5h.01M1486.6 594.2h.01M1489.1 597.2h.01M1491.5 589.8h.01M1494.0 591.8h.01M1496.5 594.7h.01M1499.0 588.6h.01M1501.5 592.6h.01M1504.0 590.0h.01M1506.4 599.7h.01M1508.9 598.9h.01M1511.4 593.4h.01M1513.9 599.0h.01M1516.4 598.7h.01M1518.9 581.0h.01M1521.3 586.7h.01M1523.8 579.4h.01M1526.3 588.5h.01M1528.8 587.8h.01M1531.3 581.2h.01M1533.8 587.6h.01M1536.2 588.5h.01M1538.7 585.4h.01M1541.2 574.6h.01M1543.7 593.7h.01M1546.2 576.5h.01M1548.7 576.6h.01M1551.1 575.4h.01M1553.6 579.4h.01M1556.1 567.3h.01M1558.6 572.1h.01M1561.1 562.7h.01M1563.6 567.6h.01M1566.0 572.9h.01M1568.5 566.2h.01M1571.0 574.9h.01M1573.5 569.1h.01M1576.0 566.6h.01M1578.5 564.7h.01M1580.9 569.0h.01M1583.4 550.8h.01M1585.9 557.5h.01M1588.4 559.0h.01M1590.9 567.8h.01M1593.4 561.9h.01M1595.8 559.4h.01M1598.3 554.8h.01M1600.8 554.3h.01M1603.3 550.2h.01M1605.8 559.9h.01M1608.3 568.8h.01M1610.7 559.7h.01M1613.2 554.0h.01M1615.7 564.6h.01M1618.2 552.8h.01M1620.7 556.0h.01M1623.2 551.7h.01M1625.6 540.8h.01M1628.1 549.8h.01M1630.6 539.6h.01M1633.1 547.8h.01M1635.6 555.5h.01M1638.1 547.2h.01M1640.5 547.9h.01M1643.0 549.3h.01M1645.5 543.7h.01M1648.0 541.1h.01M1650.5 545.2h.01M1653.0 547.6h.01M1655.5 546.1h.01M1657.9 533.5h.01M1660.4 539.4h.01M1662.9 539.5h.01M1665.4 544.6h.01M1667.9 534.3h.01M1670.4 528.9h.01M1672.8 532.8h.01M1675.3 531.9h.01M1677.8 534.8h.01M1680.3 541.0h.01M1682.8 535.4h.01M1685.3 541.5h.01M1687.7 540.5h.01M1690.2 532.0h.01M1692.7 524.0h.01M1695.2 523.9h.01M1697.7 528.8h.01M1700.2 528.7h.01M1702.6 521.1h.01M1705.1 519.8h.01M1707.6 523.5h.01M1710.1 522.0h.01M1712.6 527.9h.01M1715.1 517.6h.01M1717.5 515.2h.01M1720.0 515.7h.01M1722.5 512.1h.01M1725.0 508.8h.01M1727.5 505.4h.01M1730.0 510.8h.01M1732.4 511.1h.01M1734.9 519.8h.01M1737.4 503.5h.01M1739.9 504.1h.01M1742.4 506.4h.01M1744.9 508.4h.01M1747.3 506.7h.01M1749.8 507.7h.01M1752.3 515.0h.01M1754.8 499.2h.01M1757.3 502.2h.01M1759.8 507.0h.01M1762.2 500.3h.01M1764.7 500.2h.01M1767.2 502.7h.01M1769.7 508.7h.01M1772.2 506.6h.01M1774.7 494.3h.01M1777.1 505.2h.01M1779.6 498.6h.01M1782.1 505.5h.01M1784.6 506.3h.01M1787.1 503.7h.01M1789.6 512.0h.01M1792.0 500.1h.01M1794.5 503.2h.01M1797.0 509.4h.01M1799.5 508.4h.01M1802.0 497.0h.01M1804.5 503.5h.01M1806.9 498.7h.01M1809.4 498.8h.01M1811.9 489.8h.01M1814.4 502.0h.01M1816.9 496.5h.01M1819.4 497.2h.01M1821.8 496.5h.01M1824.3 490.6h.01M1826.8 501.8h.01M1829.3 501.5h.01M1831.8 503.8h.01M1834.3 503.8h.01M1836.7 493.1h.01M1839.2 492.1h.01M1841.7 490.5h.01M1844.2 496.6h.01M1846.7 491.4h.01M1849.2 497.7h.01M1851.6 481.3h.01M1854.1 494.7h.01M1856.6 492.3h.01M1859.1 496.0h.01M1861.6 478.3h.01M1864.1 485.6h.01M1866.5 492.5h.01M1869.0 487.2h.01M1871.5 477.5h.01M1874.0 481.5h.01M1876.5 487.0h.01M1879.0 488.2h.01M1881.4 480.8h.01M1883.9 484.4h.01M1886.4 487.0h.01M1888.9 488.8h.01M1891.4 479.1h.01M1893.9 480.5h.01M1896.3 485.2h.01M1898.8 470.8h.01M1901.3 483.1h.01M1903.8 474.6h.01M1906.3 490.4h.01M1908.8 471.4h.01M1911.2 483.7h.01M1913.7 479.5h.01M1916.2 475.8h.01M1918.7 474.3h.01M1921.2 484.9h.01M1923.7 475.2h.01M1926.1 481.1h.01M1928.6 481.3h.01M1931.1 468.6h.01M1933.6 475.7h.01M1936.1 479.3h.01M1938.6 475.5h.01M1941.0 467.8h.01M1943.5 481.8h.01M1946.0 482.8h.01M1948.5 477.8h.01M1951.0 471.6h.01M1953.5 485.9h.01M1955.9 469.1h.01M1958.4 476.7h.01M1960.9 483.8h.01M1963.4 468.1h.01M1965.9 473.7h.01M1968.4 483.7h.01M1970.8 477.6h.01M1973.3 488.4h.01M1975.8 475.4h.01M1978.3 476.3h.01M1980.8 480.4h.01M1983.3 481.4h.01M1985.7 489.6h.01M1988.2 480.3h.01M1990.7 486.7h.01M1993.2 491.1h.01M1995.7 473.6h.01M1998.2 479.1h.01M2000.6 480.9h.01M2003.1 475.0h.01M2005.6 491.9h.01M2008.1 484.4h.01M2010.6 496.2h.01M2013.1 487.2h.01M2015.5 490.5h.01M2018.0 490.3h.01M2020.5 483.7h.01"/>
<path stroke="#37AD6B" d="M391.4 1635.6h.01M393.9 1638.0h.01M396.4 1638.2h.01M398.9 1638.9h.01M401.3 1638.5h.01M403.8 1637.6h.01M406.3 1638.2h.01M408.8 1638.0h.01M411.3 1638.3h.01M413.8 1637.6h.01M416.2 1638.3h.01M418.7 1638.3h.01M421.2 1638.8h.01M423.7 1638.4h.01M426.2 1638.4h.01M428.7 1637.7h.01M431.1 1638.9h.01M433.6 1637.5h.01M436.1 1638.6h.01M438.6 1638.1h.01M441.1 1637.9h.01M443.6 1638.0h.01M446.0 1638.0h.01M448.5 1638.4h.01M451.0 1638.2h.01M453.5 1638.8h.01M456.0 1637.6h.01M458.5 1638.2h.01M460.9 1637.9h.01M463.4 1638.5h.01M465.9 1637.5h.01M468.4 1638.1h.01M470.9 1638.3h.01M473.4 1637.7h.01M475.8 1638.6h.01M478.3 1638.3h.01M480.8 1638.6h.01M483.3 1638.6h.01M485.8 1637.9h.01M488.3 1637.9h.01M490.7 1638.2h.01M493.2 1638.5h.01M495.7 1638.6h.01M498.2 1638.0h.01M500.7 1638.0h.01M503.2 1638.0h.01M505.6 1638.0h.01M508.1 1638.2h.01M510.6 1638.2h.01M513.1 1638.9h.01M515.6 1638.1h.01M518.1 1638.1h.01M520.5 1638.4h.01M523.0 1637.9h.01M525.5 1638.1h.01M528.0 1638.3h.01M530.5 1638.5h.01M533.0 1637.8h.01M535.4 1638.8h.01M537.9 1638.1h.01M540.4 1638.3h.01M542.9 1638.6h.01M545.4 1638.5h.01M547.9 1638.6h.01M550.3 1638.3h.01M552.8 1638.2h.01M555.3 1638.4h.01M557.8 1637.9h.01M560.3 1638.7h.01M562.8 1638.0h.01M565.2 1637.8h.01M567.7 1638.9h.01M570.2 1638.2h.01M572.7 1637.8h.01M575.2 1638.9h.01M577.7 1638.1h.01M580.1 1638.6h.01M582.6 1637.9h.01M585.1 1638.2h.01M587.6 1637.6h.01M590.1 1637.6h.01M592.6 1637.9h.01M595.0 1638.2h.01M597.5 1638.5h.01M600.0 1638.9h.01M602.5 1637.9h.01M605.0 1638.6h.01M607.5 1638.0h.01M609.9 1638.2h.01M612.4 1637.7h.01M614.9 1637.7h.01M617.4 1638.0h.01M619.9 1637.8h.01M622.4 1638.3h.01M624.8 1638.0h.01M627.3 1638.7h.01M629.8 1638.3h.01M632.3 1638.3h.01M634.8 1638.7h.01M637.3 1638.4h.01M639.7 1638.2h.01M642.2 1638.2h.01M644.7 1638.2h.01M647.2 1638.7h.01M649.7 1638.5h.01M652.2 1638.4h.01M654.6 1638.6h.01M657.1 1638.1h.01M659.6 1638.4h.01M662.1 1637.7h.01M664.6 1638.8h.01M667.1 1638.3h.01M669.5 1638.3h.01M672.0 1638.5h.01M674.5 1638.3h.01M677.0 1638.2h.01M679.5 1638.7h.01M682.0 1638.3h.01M684.4 1637.9h.01M686.9 1638.4h.01M689.4 1637.6h.01M691.9 1638.9h.01M694.4 1638.2h.01M696.9 1638.3h.01M699.3 1639.0h.01M701.8 1639.0h.01M704.3 1638.3h.01M706.8 1638.5h.01M709.3 1638.7h.01M711.8 1638.9h.01M714.2 1638.2h.01M716.7 1638.3h.01M719.2 1638.7h.01M721.7 1638.4h.01M724.2 1638.5h.01M726.7 1638.5h.01M729.1 1637.8h.01M731.6 1638.0h.01M734.1 1637.6h.01M736.6 1638.2h.01M739.1 1638.8h.01M741.6 1637.9h.01M744.0 1638.7h.01M746.5 1638.6h.01M749.0 1638.2h.01M751.5 1638.3h.01M754.0 1638.3h.01M756.5 1638.0h.01M758.9 1638.2h.01M761.4 1638.3h.01M763.9 1638.5h.01M766.4 1638.6h.01M768.9 1638.0h.01M771.4 1638.6h.01M773.8 1638.0h.01M776.3 1638.2h.01M778.8 1638.4h.01M781.3 1638.3h.01M783.8 1638.2h.01M786.3 1638.4h.01M788.7 1638.1h.01M791.2 1638.0h.01M793.7 1638.2h.01M796.2 1638.6h.01M798.7 1638.2h.01M801.2 1639.0h.01M803.6 1638.4h.01M806.1 1637.6h.01M808.6 1638.1h.01M811.1 1638.9h.01M813.6 1638.3h.01M816.1 1638.1h.01M818.5 1638.0h.01M821.0 1638.8h.01M823.5 1638.7h.01M826.0 1638.5h.01M828.5 1638.4h.01M831.0 1638.8h.01M833.4 1638.6h.01M835.9 1637.8h.01M838.4 1638.6h.01M840.9 1638.3h.01M843.4 1638.2h.01M845.9 1638.6h.01M848.3 1638.3h.01M850.8 1637.6h.01M853.3 1638.9h.01M855.8 1638.7h.01M858.3 1638.2h.01M860.8 1638.2h.01M863.2 1638.4h.01M865.7 1637.8h.01M868.2 1638.4h.01M870.7 1638.2h.01M873.2 1638.2h.01M875.7 1638.0h.01M878.1 1638.0h.01M880.6 1638.7h.01M883.1 1638.8h.01M885.6 1638.5h.01M888.1 1638.3h.01M890.6 1638.0h.01M893.0 1638.6h.01M895.5 1638.9h.01M898.0 1637.7h.01M900.5 1638.7h.01M903.0 1637.6h.01M905.5 1638.2h.01M907.9 1638.4h.01M910.4 1637.8h.01M912.9 1637.7h.01M915.4 1638.4h.01M917.9 1638.6h.01M920.4 1638.1h.01M922.8 1638.8h.01M925.3 1638.0h.01M927.8 1638.9h.01M930.3 1638.3h.01M932.8 1638.4h.01M935.3 1638.5h.01M937.7 1638.4h.01M940.2 1639.0h.01M942.7 1639.0h.01M945.2 1638.5h.01M947.7 1638.2h.01M950.2 1637.9h.01M952.6 1638.0h.01M955.1 1638.3h.01M957.6 1638.3h.01M960.1 1638.3h.01M962.6 1638.3h.01M965.1 1638.5h.01M967.5 1637.8h.01M970.0 1637.9h.01M972.5 1638.7h.01M975.0 1638.6h.01M977.5 1638.1h.01M980.0 1638.8h.01M982.4 1638.1h.01M984.9 1638.2h.01M987.4 1637.6h.01M989.9 1638.6h.01M992.4 1638.3h.01M994.9 1638.7h.01M997.3 1638.6h.01M999.8 1638.4h.01M1002.3 1638.4h.01M1004.8 1638.8h.01M1007.3 1638.3h.01M1009.8 1638.3h.01M1012.2 1638.3h.01M1014.7 1638.6h.01M1017.2 1638.7h.01M1019.7 1639.0h.01M1022.2 1638.3h.01M1024.7 1638.8h.01M1027.2 1638.1h.01M1029.6 1638.6h.01M1032.1 1638.4h.01M1034.6 1639.0h.01M1037.1 1638.6h.01M1039.6 1638.2h.01M1042.1 1638.6h.01M1044.5 1638.5h.01M1047.0 1638.2h.01M1049.5 1638.2h.01M1052.0 1638.0h.01M1054.5 1639.0h.01M1057.0 1638.4h.01M1059.4 1638.7h.01M1061.9 1637.9h.01M1064.4 1638.0h.01M1066.9 1638.3h.01M1069.4 1638.3h.01M1071.9 1638.6h.01M1074.3 1638.0h.01M1076.8 1638.6h.01M1079.3 1638.9h.01M1081.8 1638.0h.01M1084.3 1638.7h.01M1086.8 1638.0h.01M1089.2 1638.5h.01M1091.7 1638.5h.01M1094.2 1639.0h.01M1096.7 1638.1h.01M1099.2 1638.4h.01M1101.7 1638.7h.01M1104.1 1637.9h.01M1106.6 1638.4h.01M1109.1 1638.0h.01M1111.6 1638.1h.01M1114.1 1638.6h.01M1116.6 1638.6h.01M1119.0 1639.0h.01M1121.5 1638.9h.01M1124.0 1638.8h.01M1126.5 1638.3h.01M1129.0 1638.3h.01M1131.5 1638.4h.01M1133.9 1637.6h.01M1136.4 1639.0h.01M1138.9 1638.1h.01M1141.4 1638.0h.01M1143.9 1638.2h.01M1146.4 1638.7h.01M1148.8 1638.8h.01M1151.3 1638.2h.01M1153.8 1638.5h.01M1156.3 1638.3h.01M1158.8 1638.0h.01M1161.3 1638.4h.01M1163.7 1638.4h.01M1166.2 1637.8h.01M1168.7 1638.8h.01M1171.2 1637.8h.01M1173.7 1638.5h.01M1176.2 1638.0h.01M1178.6 1638.1h.01M1181.1 1638.1h.01M1183.6 1638.6h.01M1186.1 1637.9h.01M1188.6 1638.3h.01M1191.1 1638.9h.01M1193.5 1638.1h.01M1196.0 1638.4h.01M1198.5 1638.6h.01M1201.0 1638.2h.01M1203.5 1638.5h.01M1206.0 1638.1h.01M1208.4 1638.6h.01M1210.9 1638.4h.01M1213.4 1638.0h.01M1215.9 1638.9h.01M1218.4 1638.3h.01M1220.9 1638.3h.01M1223.3 1638.0h.01M1225.8 1638.2h.01M1228.3 1638.3h.01M1230.8 1638.4h.01M1233.3 1638.8h.01M1235.8 1637.9h.01M1238.2 1638.3h.01M1240.7 1638.8h.01M1243.2 1638.4h.01M1245.7 1638.5h.01M1248.2 1639.0h.01M1250.7 1638.5h.01M1253.1 1638.6h.01M1255.6 1638.4h.01M1258.1 1639.0h.01M1260.6 1638.8h.01M1263.1 1638.1h.01M1265.6 1638.6h.01M1268.0 1638.0h.01M1270.5 1638.8h.01M1273.0 1638.6h.01M1275.5 1638.3h.01M1278.0 1638.2h.01M1280.5 1637.7h.01M1282.9 1638.7h.01M1285.4 1638.4h.01M1287.9 1638.3h.01M1290.4 1638.7h.01M1292.9 1638.2h.01M1295.4 1638.2h.01M1297.8 1638.1h.01M1300.3 1637.9h.01M1302.8 1639.1h.01M1305.3 1638.3h.01M1307.8 1638.3h.01M1310.3 1638.7h.01M1312.7 1637.7h.01M1315.2 1638.4h.01M1317.7 1638.4h.01M1320.2 1638.0h.01M1322.7 1638.6h.01M1325.2 1637.7h.01M1327.6 1638.4h.01M1330.1 1638.7h.01M1332.6 1637.7h.01M1335.1 1637.9h.01M1337.6 1638.3h.01M1340.1 1638.4h.01M1342.5 1638.2h.01M1345.0 1638.5h.01M1347.5 1638.5h.01M1350.0 1637.9h.01M1352.5 1638.3h.01M1355.0 1637.9h.01M1357.4 1637.7h.01M1359.9 1637.7h.01M1362.4 1638.7h.01M1364.9 1638.3h.01M1367.4 1639.1h.01M1369.9 1637.8h.01M1372.3 1638.2h.01M1374.8 1638.5h.01M1377.3 1638.3h.01M1379.8 1638.6h.01M1382.3 1638.4h.01M1384.8 1638.2h.01M1387.2 1637.7h.01M1389.7 1638.0h.01M1392.2 1639.0h.01M1394.7 1638.7h.01M1397.2 1638.9h.01M1399.7 1638.2h.01M1402.1 1638.3h.01M1404.6 1638.1h.01M1407.1 1638.5h.01M1409.6 1638.4h.01M1412.1 1638.6h.01M1414.6 1639.1h.01M1417.0 1638.1h.01M1419.5 1638.7h.01M1422.0 1637.9h.01M1424.5 1638.8h.01M1427.0 1638.3h.01M1429.5 1638.4h.01M1431.9 1638.5h.01M1434.4 1639.0h.01M1436.9 1638.4h.01M1439.4 1638.2h.01M1441.9 1638.0h.01M1444.4 1638.5h.01M1446.8 1638.1h.01M1449.3 1638.2h.01M1451.8 1638.4h.01M1454.3 1638.7h.01M1456.8 1638.2h.01M1459.3 1638.7h.01M1461.7 1639.1h.01M1464.2 1637.9h.01M1466.7 1638.9h.01M1469.2 1639.2h.01M1471.7 1638.2h.01M1474.2 1638.7h.01M1476.6 1637.9h.01M1479.1 1638.6h.01M1481.6 1638.3h.01M1484.1 1638.6h.01M1486.6 1638.1h.01M1489.1 1638.2h.01M1491.5 1638.3h.01M1494.0 1638.2h.01M1496.5 1638.2h.01M1499.0 1638.4h.01M1501.5 1638.1h.01M1504.0 1638.4h.01M1506.4 1638.6h.01M1508.9 1637.8h.01M1511.4 1638.5h.01M1513.9 1638.2h.01M1516.4 1638.1h.01M1518.9 1638.0h.01M1521.3 1638.2h.01M1523.8 1638.2h.01M1526.3 1638.6h.01M1528.8 1638.0h.01M1531.3 1638.9h.01M1533.8 1638.2h.01M1536.2 1638.7h.01M1538.7 1638.9h.01M1541.2 1638.0h.01M1543.7 1638.9h.01M1546.2 1639.2h.01M1548.7 1638.3h.01M1551.1 1638.7h.01M1553.6 1638.5h.01M1556.1 1638.5h.01M1558.6 1638.4h.01M1561.1 1638.3h.01M1563.6 1638.8h.01M1566.0 1638.9h.01M1568.5 1638.5h.01M1571.0 1639.1h.01M1573.5 1638.9h.01M1576.0 1638.8h.01M1578.5 1638.3h.01M1580.9 1639.3h.01M1583.4 1639.0h.01M1585.9 1637.9h.01M1588.4 1638.2h.01M1590.9 1638.4h.01M1593.4 1638.9h.01M1595.8 1639.0h.01M1598.3 1638.5h.01M1600.8 1638.7h.01M1603.3 1638.8h.01M1605.8 1638.1h.01M1608.3 1638.8h.01M1610.7 1638.5h.01M1613.2 1638.7h.01M1615.7 1638.6h.01M1618.2 1638.2h.01M1620.7 1638.2h.01M1623.2 1638.6h.01M1625.6 1638.6h.01M1628.1 1638.5h.01M1630.6 1639.0h.01M1633.1 1638.5h.01M1635.6 1638.2h.01M1638.1 1638.5h.01M1640.5 1638.5h.01M1643.0 1638.6h.01M1645.5 1639.0h.01M1648.0 1638.8h.01M1650.5 1639.0h.01M1653.0 1638.9h.01M1655.5 1638.6h.01M1657.9 1639.0h.01M1660.4 1638.5h.01M1662.9 1638.7h.01M1665.4 1638.3h.01M1667.9 1638.7h.01M1670.4 1638.5h.01M1672.8 1638.8h.01M1675.3 1639.3h.01M1677.8 1639.3h.01M1680.3 1639.0h.01M1682.8 1638.6h.01M1685.3 1639.0h.01M1687.7 1638.7h.01M1690.2 1638.4h.01M1692.7 1638.6h.01M1695.2 1638.6h.01M1697.7 1638.4h.01M1700.2 1639.2h.01M1702.6 1638.5h.01M1705.1 1638.5h.01M1707.6 1638.9h.01M1710.1 1638.4h.01M1712.6 1638.3h.01M1715.1 1638.4h.01M1717.5 1638.9h.01M1720.0 1638.8h.01M1722.5 1638.8h.01M1725.0 1638.5h.01M1727.5 1638.4h.01M1730.0 1639.0h.01M1732.4 1638.2h.01M1734.9 1638.6h.01M1737.4 1638.2h.01M1739.9 1638.5h.01M1742.4 1638.6h.01M1744.9 1639.2h.01M1747.3 1638.0h.01M1749.8 1639.2h.01M1752.3 1638.4h.01M1754.8 1638.8h.01M1757.3 1639.0h.01M1759.8 1638.4h.01M1762.2 1638.7h.01M1764.7 1638.9h.01M1767.2 1638.7h.01M1769.7 1638.5h.01M1772.2 1638.8h.01M1774.7 1638.8h.01M1777.1 1638.2h.01M1779.6 1639.2h.01M1782.1 1638.8h.01M1784.6 1638.0h.01M1787.1 1638.4h.01M1789.6 1639.4h.01M1792.0 1639.3h.01M1794.5 1638.9h.01M1797.0 1638.1h.01M1799.5 1638.7h.01M1802.0 1639.2h.01M1804.5 1638.9h.01M1806.9 1638.6h.01M1809.4 1638.5h.01M1811.9 1639.1h.01M1814.4 1638.7h.01M1816.9 1638.9h.01M1819.4 1639.0h.01M1821.8 1639.4h.01M1824.3 1638.9h.01M1826.8 1638.9h.01M1829.3 1638.1h.01M1831.8 1639.2h.01M1834.3 1639.1h.01M1836.7 1638.8h.01M1839.2 1638.1h.01M1841.7 1638.6h.01M1844.2 1638.8h.01M1846.7 1639.5h.01M1849.2 1639.0h.01M1851.6 1639.1h.01M1854.1 1639.1h.01M1856.6 1639.3h.01M1859.1 1638.4h.01M1861.6 1638.5h.01M1864.1 1638.4h.01M1866.5 1638.7h.01M1869.0 1638.7h.01M1871.5 1638.9h.01M1874.0 1638.5h.01M1876.5 1638.9h.01M1879.0 1638.5h.01M1881.4 1639.5h.01M1883.9 1638.6h.01M1886.4 1639.5h.01M1888.9 1639.4h.01M1891.4 1638.4h.01M1893.9 1639.2h.01M1896.3 1639.1h.01M1898.8 1638.3h.01M1901.3 1639.1h.01M1903.8 1638.8h.01M1906.3 1639.0h.01M1908.8 1638.5h.01M1911.2 1638.8h.01M1913.7 1639.0h.01M1916.2 1638.8h.01M1918.7 1638.6h.01M1921.2 1638.8h.01M1923.7 1638.5h.01M1926.1 1639.0h.01M1928.6 1638.2h.01M1931.1 1639.4h.01M1933.6 1638.9h.01M1936.1 1639.1h.01M1938.6 1639.2h.01M1941.0 1638.4h.01M1943.5 1639.6h.01M1946.0 1638.5h.01M1948.5 1639.1h.01M1951.0 1639.0h.01M1953.5 1639.4h.01M1955.9 1638.9h.01M1958.4 1638.4h.01M1960.9 1639.0h.01M1963.4 1638.2h.01M1965.9 1638.8h.01M1968.4 1638.7h.01M1970.8 1639.5h.01M1973.3 1638.8h.01M1975.8 1638.8h.01M1978.3 1638.6h.01M1980.8 1638.6h.01M1983.3 1638.7h.01M1985.7 1639.2h.01M1988.2 1638.4h.01M1990.7 1638.9h.01M1993.2 1638.4h.01M1995.7 1638.9h.01M1998.2 1639.0h.01M2000.6 1638.5h.01M2003.1 1638.7h.01M2005.6 1639.0h.01M2008.1 1639.2h.01M2010.6 1639.3h.01M2013.1 1638.9h.01M2015.5 1638.6h.01M2018.0 1638.4h.01M2020.5 1639.2h.01"/>
</g>
<path id="axes" fill="#000" fill-rule="evenodd" d="M287 344H2082V1793H287ZM295 353H2073V1785H295ZM386 1761h8v24h-8ZM624 1761h9v24h-9ZM862 1761h9v24h-9ZM1100 1761h9v24h-9ZM1339 1761h8v24h-8ZM1577 1761h8v24h-8ZM1815 1761h9v24h-9ZM2053 1761h9v24h-9ZM505 1775h8v10h-8ZM743 1775h9v10h-9ZM981 1775h9v10h-9ZM1220 1775h8v10h-8ZM1458 1775h8v10h-8ZM1696 1775h8v10h-8ZM1934 1775h9v10h-9ZM295 1665h24v9h-24ZM295 1425h24v8h-24ZM295 1185h24v8h-24ZM295 944h24v9h-24ZM295 704h24v9h-24ZM295 464h24v8h-24ZM295 1545h10v9h-10ZM295 1305h10v8h-10ZM295 1064h10v9h-10ZM295 824h10v9h-10ZM295 584h10v8h-10Z"/>
<g id="ticklabels" font-size="85.3" stroke-width="1.4">
<text x="367.1" y="1886.3" textLength="46.9" lengthAdjust="spacingAndGlyphs">0</text><text x="561.3" y="1886.3" textLength="135.3" lengthAdjust="spacingAndGlyphs">240</text><text x="798.3" y="1886.3" textLength="137.0" lengthAdjust="spacingAndGlyphs">480</text><text x="1036.9" y="1886.3" textLength="136.8" lengthAdjust="spacingAndGlyphs">720</text><text x="1275.0" y="1886.3" textLength="135.4" lengthAdjust="spacingAndGlyphs">960</text><text x="1492.2" y="1886.3" textLength="180.3" lengthAdjust="spacingAndGlyphs">1200</text><text x="1730.0" y="1886.3" textLength="180.2" lengthAdjust="spacingAndGlyphs">1440</text><text x="1968.1" y="1886.3" textLength="180.6" lengthAdjust="spacingAndGlyphs">1680</text>
<text x="147.7" y="1693.3" textLength="113.3" lengthAdjust="spacingAndGlyphs">0.0</text><text x="147.7" y="1453.0" textLength="114.2" lengthAdjust="spacingAndGlyphs">0.2</text><text x="147.7" y="1212.8" textLength="112.4" lengthAdjust="spacingAndGlyphs">0.4</text><text x="147.7" y="972.4" textLength="113.7" lengthAdjust="spacingAndGlyphs">0.6</text><text x="147.7" y="732.1" textLength="113.6" lengthAdjust="spacingAndGlyphs">0.8</text><text x="150.1" y="491.8" textLength="110.8" lengthAdjust="spacingAndGlyphs">1.0</text>
</g>
<text id="xtitle" x="1005.2" y="2049.4" font-size="85.3" stroke-width="1.4" textLength="355.6" lengthAdjust="spacingAndGlyphs">Time, min</text>
<text id="ytitle" transform="translate(94.45 1152.9) rotate(-90)" font-size="85.3" stroke-width="1.4"><tspan font-style="italic" x="-4.0" y="0" textLength="23.0" lengthAdjust="spacingAndGlyphs">I</tspan><tspan font-style="italic" font-size="102.0" stroke="none" x="21.4" y="10.1" textLength="21.5" lengthAdjust="spacingAndGlyphs">/</tspan><tspan font-style="italic" x="49.0" y="0" textLength="23.7" lengthAdjust="spacingAndGlyphs">I</tspan><tspan font-size="58.7" stroke-width="1.1" x="70.8" y="24.65" textLength="102.3" lengthAdjust="spacingAndGlyphs">max</tspan></text>
</svg>
</body></html>
